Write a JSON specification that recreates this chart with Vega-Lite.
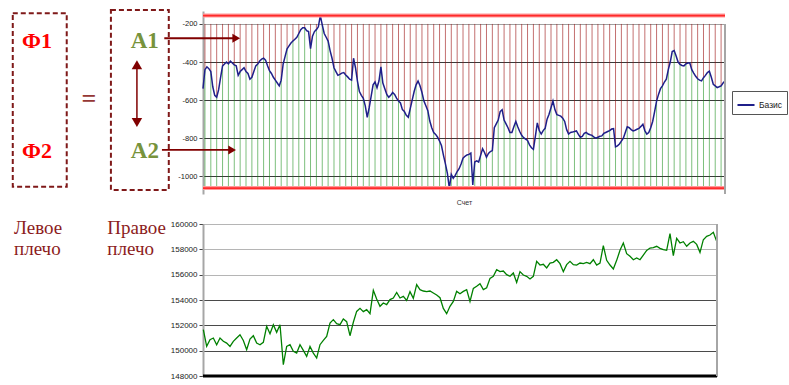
{
  "$schema": "https://vega.github.io/schema/vega-lite/v6.json",
  "background": "white",
  "padding": {"left": 11, "top": 8, "right": 5, "bottom": 4},
  "config": {"view": {"stroke": null}, "font": "Liberation Sans"},
  "spacing": 14,
  "datasets": {
    "basis": [
      {"n":0,"v":-540},{"n":1,"v":-440},{"n":2,"v":-425},{"n":3,"v":-435},{"n":4,"v":-450},{"n":5,"v":-530},{"n":6,"v":-575},{"n":7,"v":-585},{"n":8,"v":-545},{"n":9,"v":-480},
      {"n":10,"v":-420},{"n":11,"v":-410},{"n":12,"v":-400},{"n":13,"v":-410},{"n":14,"v":-395},{"n":15,"v":-405},{"n":16,"v":-415},{"n":17,"v":-420},{"n":18,"v":-470},{"n":19,"v":-450},
      {"n":20,"v":-440},{"n":21,"v":-430},{"n":22,"v":-450},{"n":23,"v":-460},{"n":24,"v":-490},{"n":25,"v":-480},{"n":26,"v":-450},{"n":27,"v":-420},{"n":28,"v":-410},{"n":29,"v":-395},
      {"n":30,"v":-385},{"n":31,"v":-380},{"n":32,"v":-390},{"n":33,"v":-420},{"n":34,"v":-445},{"n":35,"v":-460},{"n":36,"v":-480},{"n":37,"v":-495},{"n":38,"v":-510},{"n":39,"v":-525},
      {"n":40,"v":-495},{"n":41,"v":-410},{"n":42,"v":-370},{"n":43,"v":-330},{"n":44,"v":-315},{"n":45,"v":-300},{"n":46,"v":-290},{"n":47,"v":-280},{"n":48,"v":-270},{"n":49,"v":-250},
      {"n":50,"v":-230},{"n":51,"v":-220},{"n":52,"v":-220},{"n":53,"v":-235},{"n":54,"v":-240},{"n":55,"v":-330},{"n":56,"v":-265},{"n":57,"v":-240},{"n":58,"v":-230},{"n":59,"v":-215},
      {"n":60,"v":-156},{"n":61,"v":-205},{"n":62,"v":-250},{"n":63,"v":-270},{"n":64,"v":-290},{"n":65,"v":-340},{"n":66,"v":-380},{"n":67,"v":-430},{"n":68,"v":-450},{"n":69,"v":-470},
      {"n":70,"v":-465},{"n":71,"v":-458},{"n":72,"v":-455},{"n":73,"v":-468},{"n":74,"v":-478},{"n":75,"v":-490},{"n":76,"v":-495},{"n":77,"v":-380},{"n":78,"v":-430},{"n":79,"v":-500},
      {"n":80,"v":-555},{"n":81,"v":-575},{"n":82,"v":-590},{"n":83,"v":-630},{"n":84,"v":-690},{"n":85,"v":-640},{"n":86,"v":-580},{"n":87,"v":-520},{"n":88,"v":-505},{"n":89,"v":-535},
      {"n":90,"v":-500},{"n":91,"v":-425},{"n":92,"v":-510},{"n":93,"v":-540},{"n":94,"v":-570},{"n":95,"v":-585},{"n":96,"v":-575},{"n":97,"v":-560},{"n":98,"v":-570},{"n":99,"v":-590},
      {"n":100,"v":-605},{"n":101,"v":-615},{"n":102,"v":-650},{"n":103,"v":-660},{"n":104,"v":-680},{"n":105,"v":-690},{"n":106,"v":-645},{"n":107,"v":-600},{"n":108,"v":-555},{"n":109,"v":-520},
      {"n":110,"v":-500},{"n":111,"v":-525},{"n":112,"v":-560},{"n":113,"v":-605},{"n":114,"v":-630},{"n":115,"v":-655},{"n":116,"v":-710},{"n":117,"v":-745},{"n":118,"v":-770},{"n":119,"v":-780},
      {"n":120,"v":-795},{"n":121,"v":-815},{"n":122,"v":-840},{"n":123,"v":-890},{"n":124,"v":-935},{"n":125,"v":-985},{"n":126,"v":-1062},{"n":127,"v":-990},{"n":128,"v":-1010},{"n":129,"v":-995},
      {"n":130,"v":-975},{"n":131,"v":-960},{"n":132,"v":-935},{"n":133,"v":-905},{"n":134,"v":-895},{"n":135,"v":-888},{"n":136,"v":-885},{"n":137,"v":-878},{"n":138,"v":-1045},{"n":139,"v":-925},
      {"n":140,"v":-919},{"n":141,"v":-925},{"n":142,"v":-890},{"n":143,"v":-855},{"n":144,"v":-875},{"n":145,"v":-900},{"n":146,"v":-880},{"n":147,"v":-870},{"n":148,"v":-865},{"n":149,"v":-745},
      {"n":150,"v":-725},{"n":151,"v":-705},{"n":152,"v":-660},{"n":153,"v":-650},{"n":154,"v":-705},{"n":155,"v":-725},{"n":156,"v":-745},{"n":157,"v":-770},{"n":158,"v":-770},{"n":159,"v":-740},
      {"n":160,"v":-712},{"n":161,"v":-740},{"n":162,"v":-765},{"n":163,"v":-785},{"n":164,"v":-797},{"n":165,"v":-805},{"n":166,"v":-812},{"n":167,"v":-835},{"n":168,"v":-850},{"n":169,"v":-858},
      {"n":170,"v":-790},{"n":171,"v":-720},{"n":172,"v":-760},{"n":173,"v":-778},{"n":174,"v":-760},{"n":175,"v":-748},{"n":176,"v":-700},{"n":177,"v":-674},{"n":178,"v":-640},{"n":179,"v":-605},
      {"n":180,"v":-650},{"n":181,"v":-676},{"n":182,"v":-680},{"n":183,"v":-684},{"n":184,"v":-695},{"n":185,"v":-712},{"n":186,"v":-755},{"n":187,"v":-778},{"n":188,"v":-770},{"n":189,"v":-768},
      {"n":190,"v":-765},{"n":191,"v":-762},{"n":192,"v":-780},{"n":193,"v":-795},{"n":194,"v":-790},{"n":195,"v":-775},{"n":196,"v":-770},{"n":197,"v":-778},{"n":198,"v":-782},{"n":199,"v":-785},
      {"n":200,"v":-795},{"n":201,"v":-800},{"n":202,"v":-795},{"n":203,"v":-790},{"n":204,"v":-788},{"n":205,"v":-775},{"n":206,"v":-770},{"n":207,"v":-765},{"n":208,"v":-760},{"n":209,"v":-752},
      {"n":210,"v":-750},{"n":211,"v":-845},{"n":212,"v":-840},{"n":213,"v":-830},{"n":214,"v":-815},{"n":215,"v":-800},{"n":216,"v":-770},{"n":217,"v":-740},{"n":218,"v":-745},{"n":219,"v":-755},
      {"n":220,"v":-762},{"n":221,"v":-758},{"n":222,"v":-753},{"n":223,"v":-748},{"n":224,"v":-738},{"n":225,"v":-727},{"n":226,"v":-760},{"n":227,"v":-778},{"n":228,"v":-770},{"n":229,"v":-745},
      {"n":230,"v":-712},{"n":231,"v":-660},{"n":232,"v":-605},{"n":233,"v":-570},{"n":234,"v":-540},{"n":235,"v":-525},{"n":236,"v":-505},{"n":237,"v":-490},{"n":238,"v":-440},{"n":239,"v":-400},
      {"n":240,"v":-345},{"n":241,"v":-340},{"n":242,"v":-368},{"n":243,"v":-400},{"n":244,"v":-412},{"n":245,"v":-418},{"n":246,"v":-420},{"n":247,"v":-410},{"n":248,"v":-405},{"n":249,"v":-405},
      {"n":250,"v":-440},{"n":251,"v":-458},{"n":252,"v":-475},{"n":253,"v":-488},{"n":254,"v":-495},{"n":255,"v":-499},{"n":256,"v":-482},{"n":257,"v":-470},{"n":258,"v":-455},{"n":259,"v":-448},
      {"n":260,"v":-480},{"n":261,"v":-517},{"n":262,"v":-525},{"n":263,"v":-534},{"n":264,"v":-530},{"n":265,"v":-525},{"n":266,"v":-510},{"n":267,"v":-499}
    ],
    "price": [
      {"m":0,"v":151660},{"m":1,"v":150340},{"m":2,"v":150870},{"m":3,"v":151000},{"m":4,"v":150470},{"m":5,"v":151000},{"m":6,"v":150740},{"m":7,"v":150600},{"m":8,"v":150340},{"m":9,"v":150740},
      {"m":10,"v":151000},{"m":11,"v":151260},{"m":12,"v":150810},{"m":13,"v":150080},{"m":14,"v":150920},{"m":15,"v":151180},{"m":16,"v":150600},{"m":17,"v":150470},{"m":18,"v":150660},{"m":19,"v":151920},
      {"m":20,"v":151340},{"m":21,"v":152050},{"m":22,"v":151450},{"m":23,"v":152050},{"m":24,"v":148900},{"m":25,"v":150340},{"m":26,"v":150470},{"m":27,"v":149950},{"m":28,"v":149810},{"m":29,"v":150470},
      {"m":30,"v":150020},{"m":31,"v":149550},{"m":32,"v":150340},{"m":33,"v":149810},{"m":34,"v":149420},{"m":35,"v":150470},{"m":36,"v":150810},{"m":37,"v":151130},{"m":38,"v":152180},{"m":39,"v":152450},
      {"m":40,"v":152130},{"m":41,"v":152050},{"m":42,"v":152500},{"m":43,"v":152290},{"m":44,"v":151180},{"m":45,"v":152240},{"m":46,"v":153100},{"m":47,"v":153340},{"m":48,"v":153080},{"m":49,"v":153240},
      {"m":50,"v":152920},{"m":51,"v":154760},{"m":52,"v":154080},{"m":53,"v":153500},{"m":54,"v":153760},{"m":55,"v":153630},{"m":56,"v":154030},{"m":57,"v":154160},{"m":58,"v":154600},{"m":59,"v":154160},
      {"m":60,"v":154290},{"m":61,"v":153970},{"m":62,"v":154660},{"m":63,"v":154130},{"m":64,"v":155210},{"m":65,"v":154820},{"m":66,"v":154710},{"m":67,"v":154660},{"m":68,"v":154710},{"m":69,"v":154550},
      {"m":70,"v":154390},{"m":71,"v":154180},{"m":72,"v":153340},{"m":73,"v":152920},{"m":74,"v":153500},{"m":75,"v":153890},{"m":76,"v":154680},{"m":77,"v":154500},{"m":78,"v":154680},{"m":79,"v":154820},
      {"m":80,"v":153890},{"m":81,"v":154920},{"m":82,"v":155080},{"m":83,"v":155290},{"m":84,"v":154820},{"m":85,"v":154970},{"m":86,"v":155710},{"m":87,"v":155870},{"m":88,"v":156390},{"m":89,"v":156240},
      {"m":90,"v":156290},{"m":91,"v":156000},{"m":92,"v":155870},{"m":93,"v":156130},{"m":94,"v":155390},{"m":95,"v":156240},{"m":96,"v":155970},{"m":97,"v":155870},{"m":98,"v":155660},{"m":99,"v":155870},
      {"m":100,"v":157050},{"m":101,"v":156760},{"m":102,"v":156820},{"m":103,"v":156530},{"m":104,"v":156920},{"m":105,"v":156970},{"m":106,"v":157180},{"m":107,"v":156870},{"m":108,"v":156240},{"m":109,"v":156790},
      {"m":110,"v":157050},{"m":111,"v":156790},{"m":112,"v":156760},{"m":113,"v":156920},{"m":114,"v":156870},{"m":115,"v":156970},{"m":116,"v":156870},{"m":117,"v":157180},{"m":118,"v":156760},{"m":119,"v":156920},
      {"m":120,"v":158290},{"m":121,"v":157130},{"m":122,"v":156760},{"m":123,"v":156450},{"m":124,"v":157130},{"m":125,"v":157920},{"m":126,"v":158500},{"m":127,"v":157660},{"m":128,"v":157450},{"m":129,"v":157180},
      {"m":130,"v":157320},{"m":131,"v":157180},{"m":132,"v":157550},{"m":133,"v":157920},{"m":134,"v":158100},{"m":135,"v":158130},{"m":136,"v":158240},{"m":137,"v":158080},{"m":138,"v":157970},{"m":139,"v":157920},
      {"m":140,"v":159240},{"m":141,"v":157500},{"m":142,"v":158870},{"m":143,"v":158500},{"m":144,"v":158600},{"m":145,"v":158240},{"m":146,"v":158500},{"m":147,"v":158630},{"m":148,"v":158390},{"m":149,"v":157760},
      {"m":150,"v":158760},{"m":151,"v":159030},{"m":152,"v":159130},{"m":153,"v":159340},{"m":154,"v":158630}
    ]
  },
  "vconcat": [
    {
      "width": 522,
      "height": 183,
      "layer": [
        {
          "data": {"name": "basis"},
          "mark": {"type": "line", "strokeWidth": 1.7, "opacity": 0},
          "encoding": {
            "x": {"field": "n", "type": "quantitative", "scale": {"domain": [0, 267], "nice": false, "zero": false},
              "axis": {"title": "Счет", "labels": false, "ticks": false, "domain": false, "grid": false, "titleFontSize": 7, "titleFontWeight": "normal", "titleColor": "#333", "titlePadding": 4, "titleFont": "Liberation Sans"}},
            "y": {"field": "v", "type": "quantitative", "scale": {"domain": [-1093, -132], "nice": false, "zero": false},
              "axis": {"title": null, "values": [-200, -400, -600, -800, -1000], "tickCount": 10, "labelOverlap": false, "labelExpr": "'' + datum.value", "labelFontSize": 7.5, "labelColor": "#222", "labelFont": "Liberation Sans", "tickColor": "#444", "tickSize": 4, "labelPadding": 2, "domainColor": "#a6a6a6", "domainWidth": 2, "grid": true, "gridColor": {"condition": {"test": "datum.value == -200", "value": "#a0a0a0"}, "value": "#3a3a3a"}, "gridWidth": 1}}
          }
        },
        {
          "data": {"name": "basis"},
          "transform": [{"filter": "datum.n % 3 == 1"}],
          "mark": {"type": "rule", "color": "#9b1010", "strokeWidth": 1, "opacity": 0.6},
          "encoding": {
            "x": {"field": "n", "type": "quantitative"},
            "y": {"field": "v", "type": "quantitative"},
            "y2": {"datum": -200}
          }
        },
        {
          "data": {"name": "basis"},
          "transform": [{"filter": "datum.n % 3 == 1"}],
          "mark": {"type": "rule", "color": "#128a12", "strokeWidth": 1, "opacity": 0.55},
          "encoding": {
            "x": {"field": "n", "type": "quantitative"},
            "y": {"field": "v", "type": "quantitative"},
            "y2": {"datum": -1062}
          }
        },
        {
          "data": {"name": "basis"},
          "mark": {"type": "line", "strokeWidth": 1.5},
          "encoding": {
            "x": {"field": "n", "type": "quantitative"},
            "y": {"field": "v", "type": "quantitative"},
            "color": {"datum": "Базис", "type": "nominal", "scale": {"domain": ["Базис"], "range": ["#1f1f8a"]},
              "legend": {"title": null, "orient": "none", "legendX": 529, "legendY": 80, "symbolType": "stroke", "symbolSize": 290, "symbolStrokeWidth": 2, "labelFontSize": 8.5, "labelFont": "Liberation Sans", "labelColor": "#222", "strokeColor": "#555", "padding": 4, "labelOffset": 3, "fillColor": "white"}}
          }
        },
        {
          "data": {"name": "basis"},
          "transform": [
            {"aggregate": [{"op": "max", "field": "v", "as": "hi"}, {"op": "min", "field": "v", "as": "lo"}]},
            {"fold": ["hi", "lo"], "as": ["k", "lv"]}
          ],
          "mark": {"type": "rule", "color": "#ff9a9a", "strokeWidth": 4},
          "encoding": {"y": {"field": "lv", "type": "quantitative"}}
        },
        {
          "data": {"name": "basis"},
          "transform": [
            {"aggregate": [{"op": "max", "field": "v", "as": "hi"}, {"op": "min", "field": "v", "as": "lo"}]},
            {"fold": ["hi", "lo"], "as": ["k", "lv"]}
          ],
          "mark": {"type": "rule", "color": "#ff2a2a", "strokeWidth": 1.8},
          "encoding": {"y": {"field": "lv", "type": "quantitative"}}
        },
        {
          "data": {"values": [{}]},
          "mark": {"type": "rule", "color": "#a6a6a6", "strokeWidth": 2},
          "encoding": {"x": {"datum": 267, "type": "quantitative"}, "y": {"datum": -200, "type": "quantitative"}, "y2": {"datum": -1093}}
        },
        {
          "data": {"values": [{}]},
          "mark": {"type": "rect", "fill": "white", "fillOpacity": 0, "stroke": "#7f1919", "strokeWidth": 2, "strokeDash": [5, 3]},
          "encoding": {"x": {"datum": -97.3, "type": "quantitative"}, "x2": {"datum": -69.7}, "y": {"datum": -143.8, "type": "quantitative"}, "y2": {"datum": -1054.5}}
        },
        {
          "data": {"values": [{}]},
          "mark": {"type": "rect", "fill": "white", "fillOpacity": 0, "stroke": "#7f1919", "strokeWidth": 2, "strokeDash": [5, 3]},
          "encoding": {"x": {"datum": -47.1, "type": "quantitative"}, "x2": {"datum": -17.5}, "y": {"datum": -126.5, "type": "quantitative"}, "y2": {"datum": -1071.8}}
        },
        {
          "data": {"values": [{}]},
          "mark": {"type": "text", "text": "Ф1", "font": "Liberation Serif", "fontWeight": "bold", "fontSize": 22, "color": "#ff0000", "align": "center", "baseline": "alphabetic"},
          "encoding": {"x": {"datum": -84.9, "type": "quantitative"}, "y": {"datum": -324.5, "type": "quantitative"}}
        },
        {
          "data": {"values": [{}]},
          "mark": {"type": "text", "text": "Ф2", "font": "Liberation Serif", "fontWeight": "bold", "fontSize": 22, "color": "#ff0000", "align": "center", "baseline": "alphabetic"},
          "encoding": {"x": {"datum": -84.9, "type": "quantitative"}, "y": {"datum": -902, "type": "quantitative"}}
        },
        {
          "data": {"values": [{}]},
          "mark": {"type": "text", "text": "=", "font": "Liberation Serif", "fontWeight": "bold", "fontSize": 26, "color": "#953735", "align": "center", "baseline": "alphabetic"},
          "encoding": {"x": {"datum": -58.3, "type": "quantitative"}, "y": {"datum": -636, "type": "quantitative"}}
        },
        {
          "data": {"values": [{}]},
          "mark": {"type": "text", "text": "A1", "font": "Liberation Serif", "fontWeight": "bold", "fontSize": 23, "color": "#77933c", "align": "center", "baseline": "alphabetic"},
          "encoding": {"x": {"datum": -29.8, "type": "quantitative"}, "y": {"datum": -324.5, "type": "quantitative"}}
        },
        {
          "data": {"values": [{}]},
          "mark": {"type": "text", "text": "A2", "font": "Liberation Serif", "fontWeight": "bold", "fontSize": 23, "color": "#77933c", "align": "center", "baseline": "alphabetic"},
          "encoding": {"x": {"datum": -29.7, "type": "quantitative"}, "y": {"datum": -902, "type": "quantitative"}}
        },
        {
          "data": {"values": [{}]},
          "mark": {"type": "rule", "color": "#800000", "strokeWidth": 1.5},
          "encoding": {"x": {"datum": -33.8, "type": "quantitative"}, "y": {"datum": -414.3, "type": "quantitative"}, "y2": {"datum": -717.3}}
        },
        {
          "data": {"values": [{}]},
          "mark": {"type": "point", "shape": "triangle-up", "size": 110, "filled": true, "opacity": 1, "color": "#800000"},
          "encoding": {"x": {"datum": -33.8, "type": "quantitative"}, "y": {"datum": -414.3, "type": "quantitative"}}
        },
        {
          "data": {"values": [{}]},
          "mark": {"type": "point", "shape": "triangle-down", "size": 110, "filled": true, "opacity": 1, "color": "#800000"},
          "encoding": {"x": {"datum": -33.8, "type": "quantitative"}, "y": {"datum": -717.3, "type": "quantitative"}}
        },
        {
          "data": {"values": [{}]},
          "mark": {"type": "rule", "color": "#800000", "strokeWidth": 1.8},
          "encoding": {"x": {"datum": -19.8, "type": "quantitative"}, "x2": {"datum": 17.0}, "y": {"datum": -275, "type": "quantitative"}}
        },
        {
          "data": {"values": [{}]},
          "mark": {"type": "point", "shape": "triangle-right", "size": 80, "filled": true, "opacity": 1, "color": "#800000"},
          "encoding": {"x": {"datum": 17.0, "type": "quantitative"}, "y": {"datum": -275, "type": "quantitative"}}
        },
        {
          "data": {"values": [{}]},
          "mark": {"type": "rule", "color": "#800000", "strokeWidth": 1.8},
          "encoding": {"x": {"datum": -21, "type": "quantitative"}, "x2": {"datum": 14.9}, "y": {"datum": -861.8, "type": "quantitative"}}
        },
        {
          "data": {"values": [{}]},
          "mark": {"type": "point", "shape": "triangle-right", "size": 80, "filled": true, "opacity": 1, "color": "#800000"},
          "encoding": {"x": {"datum": 14.9, "type": "quantitative"}, "y": {"datum": -861.8, "type": "quantitative"}}
        }
      ]
    },
    {
      "width": 514,
      "height": 152,
      "layer": [
        {
          "data": {"name": "price"},
          "mark": {"type": "line", "color": "#008000", "strokeWidth": 1.3},
          "encoding": {
            "x": {"field": "m", "type": "quantitative", "scale": {"domain": [-0.1, 154.1], "nice": false, "zero": false}, "axis": null},
            "y": {"field": "v", "type": "quantitative", "scale": {"domain": [148000, 160000], "nice": false, "zero": false},
              "axis": {"title": null, "values": [148000, 150000, 152000, 154000, 156000, 158000, 160000], "tickCount": 10, "labelOverlap": false, "labelExpr": "'' + datum.value", "labelFontSize": 8, "labelColor": "#222", "labelFont": "Liberation Sans", "tickColor": "#444", "tickSize": 4, "labelPadding": 2, "domainColor": "#a6a6a6", "domainWidth": 2, "grid": true, "gridColor": {"condition": {"test": "datum.value >= 156000", "value": "#b5b5b5"}, "value": "#4a4a4a"}, "gridWidth": 1}}
          }
        },
        {
          "data": {"values": [{}]},
          "mark": {"type": "rule", "color": "#000000", "strokeWidth": 3},
          "encoding": {"y": {"datum": 148000, "type": "quantitative"}}
        },
        {
          "data": {"values": [{}]},
          "mark": {"type": "rule", "color": "#a6a6a6", "strokeWidth": 2},
          "encoding": {"x": {"datum": 154.1, "type": "quantitative"}, "y": {"datum": 148000, "type": "quantitative"}, "y2": {"datum": 160000}}
        },
        {
          "data": {"values": [{}]},
          "mark": {"type": "text", "text": ["Левое", "плечо"], "lineHeight": 21, "font": "Liberation Serif", "fontSize": 19, "color": "#8c1c1c", "align": "left", "baseline": "alphabetic"},
          "encoding": {"x": {"datum": -56.8, "type": "quantitative"}, "y": {"datum": 159210, "type": "quantitative"}}
        },
        {
          "data": {"values": [{}]},
          "mark": {"type": "text", "text": ["Правое", "плечо"], "lineHeight": 21, "font": "Liberation Serif", "fontSize": 19, "color": "#8c1c1c", "align": "left", "baseline": "alphabetic"},
          "encoding": {"x": {"datum": -28.8, "type": "quantitative"}, "y": {"datum": 159210, "type": "quantitative"}}
        }
      ]
    }
  ]
}
